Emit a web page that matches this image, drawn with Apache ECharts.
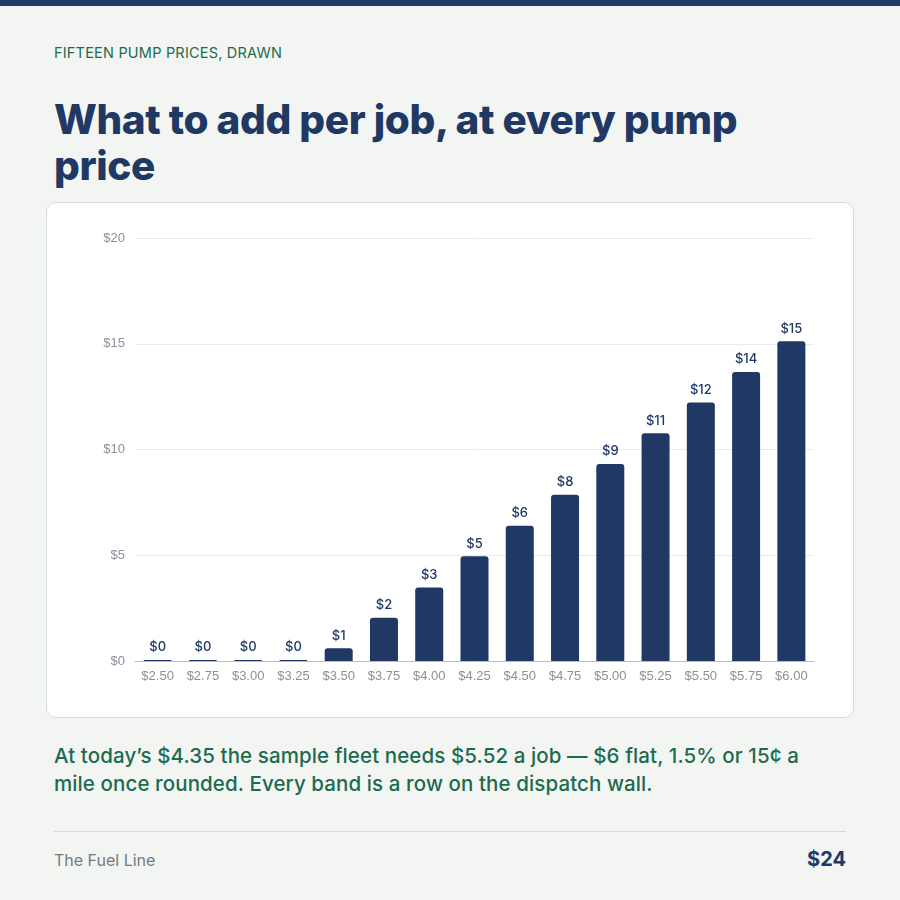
<!DOCTYPE html>
<html>
<head>
<meta charset="utf-8">
<script src="https://cdn.jsdelivr.net/npm/echarts@6/dist/echarts.min.js"></script>
<style>
  html, body { margin: 0; padding: 0; }
  body { width: 900px; height: 900px; background: #f3f5f2; position: relative; overflow: hidden; font-family: Inter, "Noto Sans", sans-serif; }
  .topbar { position: absolute; left: 0; top: 0; width: 900px; height: 6px; background: #1f3864; }
  .kicker { position: absolute; left: 54px; top: 44px; font-size: 14.5px; color: #1d6b4f; letter-spacing: 0.2px; }
  h1 { position: absolute; left: 54px; top: 97px; margin: 0; width: 710px; font-size: 40.5px; line-height: 46px; font-weight: 800; color: #1f3864; letter-spacing: -0.4px; }
  #chart { position: absolute; left: 46px; top: 202px; width: 808px; height: 516px; background: #fff; border: 1px solid #d8dcd8; border-radius: 10px; box-sizing: border-box; }
  .note { position: absolute; left: 54px; top: 742px; width: 780px; font-size: 20.5px; line-height: 28px; color: #1d6b4f; font-weight: 500; letter-spacing: 0.1px; }
  .rule { position: absolute; left: 54px; top: 831px; width: 792px; height: 1px; background: #d8dcd8; }
  .brand { position: absolute; left: 54px; top: 850px; font-size: 16px; color: #737a84; }
  .page { position: absolute; right: 54px; top: 847px; font-size: 20px; font-weight: 700; color: #1f3864; }
</style>
</head>
<body>
<div class="topbar"></div>
<div class="kicker">FIFTEEN PUMP PRICES, DRAWN</div>
<h1>What to add per job, at every pump price</h1>
<div id="chart"></div>
<div class="note">At today’s $4.35 the sample fleet needs $5.52 a job — $6 flat, 1.5% or 15¢ a mile once rounded. Every band is a row on the dispatch wall.</div>
<div class="rule"></div>
<div class="brand">The Fuel Line</div>
<div class="page">$24</div>
<script>
// pump price bands and the surcharge per job
const pumpPrices = ["$2.50", "$2.75", "$3.00", "$3.25", "$3.50", "$3.75", "$4.00", "$4.25",
  "$4.50", "$4.75", "$5.00", "$5.25", "$5.50", "$5.75", "$6.00"];
const perJob = [0, 0, 0, 0, 0.6, 2.05, 3.48, 4.95, 6.4, 7.86, 9.31, 10.77, 12.22, 13.66, 15.12];
const yTicks = [0, 5, 10, 15, 20];

const chart = echarts.init(document.getElementById("chart"));

chart.setOption({
  animation: false,
  grid: { left: 88, right: 39, top: 35, bottom: 56 },
  xAxis: {
    type: "category",
    data: pumpPrices,
    axisTick: { show: false },
    axisLine: { lineStyle: { color: "#b9bec4", width: 1 } },
    axisLabel: { color: "#8a9099", fontSize: 13, margin: 9, fontFamily: "Liberation Sans, sans-serif" }
  },
  yAxis: {
    type: "value",
    min: yTicks[0],
    max: yTicks[yTicks.length - 1],
    interval: 5,
    axisLine: { show: false },
    axisTick: { show: false },
    splitLine: { lineStyle: { color: "#e8eaec" } },
    axisLabel: { color: "#8a9099", fontSize: 13, margin: 10, formatter: (v) => "$" + v, fontFamily: "Liberation Sans, sans-serif" }
  },
  series: [
    {
      type: "bar",
      data: perJob,
      barWidth: 28,
      barMinHeight: 1,
      itemStyle: { color: "#1f3864", borderRadius: [3, 3, 0, 0] },
      label: {
        show: true,
        position: "top",
        distance: 6,
        color: "#1f3864",
        fontSize: 13,
        fontWeight: 500,
        fontFamily: "Inter, sans-serif",
        formatter: (p) => "$" + Math.round(p.value)
      }
    }
  ]
});
</script>
</body>
</html>
